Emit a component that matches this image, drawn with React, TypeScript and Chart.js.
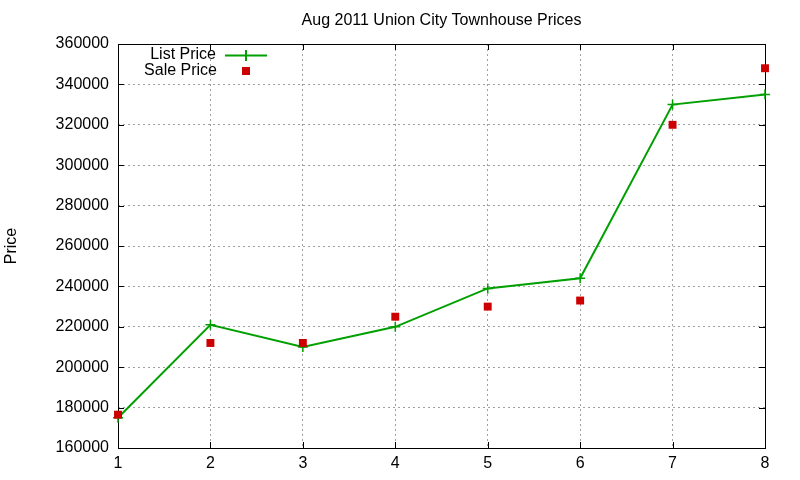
import React, { useEffect, useRef } from "react";
import { Chart, registerables } from "chart.js";

Chart.register(...registerables);

const categories: number[] = [1, 2, 3, 4, 5, 6, 7, 8];
const listPrice: number[] = [175000, 221000, 210000, 220000, 239000, 244000, 330000, 335000];
const salePrice: number[] = [176500, 212000, 212000, 225000, 230000, 233000, 320000, 348000];
const yMin = 160000;
const yMax = 360000;
const yStep = 20000;

const FONT = "'Liberation Sans', Arial, sans-serif";
const GREEN = "#00a000";
const RED = "#cc0000";

const framePlugin = {
  id: "frame",
  beforeDatasetsDraw(chart: any) {
    const { ctx, chartArea, scales } = chart;
    const { left, right, top, bottom } = chartArea;
    ctx.save();
    ctx.strokeStyle = "#000";
    ctx.lineWidth = 1;
    ctx.setLineDash([]);
    ctx.beginPath();
    const tl = 6;
    scales.y.ticks.forEach((t: any) => {
      const y = Math.round(scales.y.getPixelForValue(t.value)) + 0.5;
      ctx.moveTo(left, y);
      ctx.lineTo(left + tl, y);
      ctx.moveTo(right, y);
      ctx.lineTo(right - tl, y);
    });
    scales.x.ticks.forEach((t: any) => {
      const x = Math.round(scales.x.getPixelForValue(t.value)) + 0.5;
      ctx.moveTo(x, bottom);
      ctx.lineTo(x, bottom - tl);
      ctx.moveTo(x, top);
      ctx.lineTo(x, top + tl);
    });
    ctx.stroke();
    ctx.strokeRect(Math.round(left) + 0.5, Math.round(top) + 0.5, Math.round(right - left), Math.round(bottom - top));
    ctx.restore();
  },
};

const legendPlugin = {
  id: "gnuLegend",
  afterDraw(chart: any) {
    const { ctx } = chart;
    const ds = chart.data.datasets;
    ctx.save();
    ctx.font = `16px ${FONT}`;
    ctx.fillStyle = "#000";
    ctx.textAlign = "right";
    ctx.textBaseline = "middle";
    ctx.fillText(ds[0].label, 216, 55);
    ctx.fillText(ds[1].label, 217, 71);
    ctx.strokeStyle = GREEN;
    ctx.lineWidth = 2;
    ctx.beginPath();
    ctx.moveTo(225, 55.5);
    ctx.lineTo(267, 55.5);
    ctx.moveTo(246, 50);
    ctx.lineTo(246, 61);
    ctx.stroke();
    ctx.fillStyle = RED;
    ctx.fillRect(242, 67, 8, 8);
    ctx.restore();
  },
};

export default function App() {
  const ref = useRef<HTMLCanvasElement | null>(null);

  useEffect(() => {
    if (!ref.current) return;
    const chart = new Chart(ref.current, {
      type: "line",
      data: {
        datasets: [
          {
            label: "List Price",
            data: categories.map((c, i) => ({ x: c, y: listPrice[i] })),
            borderColor: GREEN,
            backgroundColor: GREEN,
            borderWidth: 2,
            pointStyle: "cross",
            pointRadius: 5,
            pointBorderWidth: 1.5,
            pointBorderColor: GREEN,
            tension: 0,
            clip: false as any,
            order: 2,
          },
          {
            label: "Sale Price",
            data: categories.map((c, i) => ({ x: c, y: salePrice[i] })),
            showLine: false,
            pointStyle: "rect",
            pointRadius: 5.6,
            pointBorderWidth: 0,
            borderWidth: 0,
            backgroundColor: RED,
            pointBackgroundColor: RED,
            clip: false as any,
            order: 1,
          },
        ],
      },
      options: {
        responsive: false,
        animation: false,
        layout: { padding: { left: 0, right: 35, top: 0, bottom: 0 } },
        plugins: {
          legend: { display: false },
          tooltip: { enabled: false },
          title: {
            display: true,
            fullSize: false,
            text: "Aug 2011 Union City Townhouse Prices",
            color: "#000",
            font: { family: FONT, size: 16, weight: "normal" },
            padding: { top: 11, bottom: 13.8 },
          },
        },
        scales: {
          x: {
            type: "linear",
            min: 1,
            max: 8,
            afterFit: (s: any) => {
              s.height = 32;
            },
            ticks: {
              stepSize: 1,
              color: "#000",
              padding: 6,
              font: { family: FONT, size: 16 },
            },
            grid: { color: "#a0a0a0", lineWidth: 1, drawTicks: false },
            border: { display: false, dash: [2, 3] },
          },
          y: {
            min: yMin,
            max: yMax,
            afterFit: (s: any) => {
              s.width = 118;
            },
            ticks: {
              stepSize: yStep,
              color: "#000",
              padding: 9,
              font: { family: FONT, size: 16 },
              callback: (v: any) => String(v),
            },
            title: {
              display: true,
              text: "Price",
              color: "#000",
              font: { family: FONT, size: 16 },
              padding: { top: 2, bottom: 0 },
            },
            grid: { color: "#a0a0a0", lineWidth: 1, drawTicks: false },
            border: { display: false, dash: [2, 3] },
          },
        },
      },
      plugins: [framePlugin, legendPlugin],
    });
    return () => chart.destroy();
  }, []);

  return (
    <div style={{ position: "absolute", left: 0, top: 0, width: 800, height: 480, background: "#fff" }}>
      <canvas ref={ref} width={800} height={480} style={{ display: "block" }} />
    </div>
  );
}
